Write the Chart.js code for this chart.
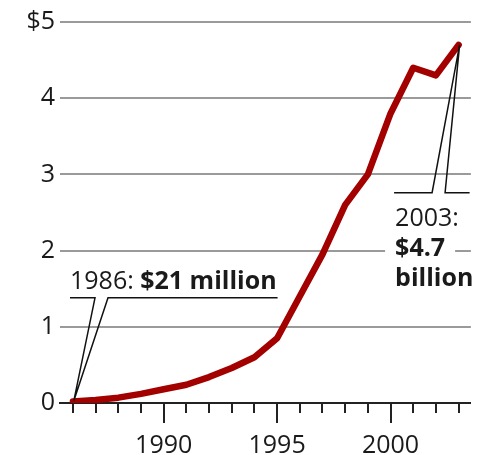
<!DOCTYPE html>
<html>
<head>
<meta charset="utf-8">
<script src="https://cdn.jsdelivr.net/npm/chart.js@4.4.1/dist/chart.umd.min.js"></script>
<style>
  html, body { margin: 0; padding: 0; background: #fff; }
  #wrap { width: 487px; height: 455px; position: relative; }
</style>
</head>
<body>
<div id="wrap"><canvas id="c"></canvas></div>
<script>
// ---- data ----
const years = [1986, 1987, 1988, 1989, 1990, 1991, 1992, 1993, 1994, 1995, 1996, 1997, 1998, 1999, 2000, 2001, 2002, 2003];
const revenue = [0.021, 0.04, 0.07, 0.12, 0.18, 0.24, 0.34, 0.46, 0.6, 0.85, 1.4, 1.95, 2.6, 3.0, 3.8, 4.4, 4.3, 4.7]; // $ billions
const yTicks = [0, 1, 2, 3, 4, 5];
const yTickLabels = ['0', '1', '2', '3', '4', '$5'];
const xLabelYears = [1990, 1995, 2000];
const firstNote = { year: 1986, value: 0.021, dateText: '1986: ', valueText: '$21 million' };
const lastNote = { year: 2003, value: 4.7, lines: ['2003:', '$4.7', 'billion'] };

const FONT = '"Open Sans", "Liberation Sans", sans-serif';
const FS = 25;
const TXT = '#1a1a1a';

const tickPlugin = {
  id: 'majorTicks',
  afterDraw(chart) {
    const ctx = chart.ctx, xs = chart.scales.x, bottom = chart.chartArea.bottom;
    ctx.save();
    ctx.strokeStyle = '#222';
    ctx.lineWidth = 2;
    years.forEach(y => {
      const px = Math.round(xs.getPixelForValue(y));
      const len = xLabelYears.includes(y) ? 20 : 10;
      ctx.beginPath();
      ctx.moveTo(px, bottom);
      ctx.lineTo(px, bottom + len);
      ctx.stroke();
    });
    ctx.restore();
  }
};

const notePlugin = {
  id: 'notes',
  afterDatasetsDraw(chart) {
    const ctx = chart.ctx, xs = chart.scales.x, ys = chart.scales.y;
    ctx.save();
    // ---- 1986 note ----
    const ax = xs.getPixelForValue(firstNote.year);
    const ay = ys.getPixelForValue(firstNote.value);
    const uy = ys.getPixelForValue(1.38);
    const left = chart.chartArea.left + 10;
    ctx.font = FS + 'px ' + FONT;
    const w1 = ctx.measureText(firstNote.dateText).width;
    ctx.font = 'bold ' + FS + 'px ' + FONT;
    const w2 = ctx.measureText(firstNote.valueText).width;
    const right = left + w1 + w2 + 1;
    ctx.strokeStyle = '#111';
    ctx.lineWidth = 1.5;
    ctx.beginPath();
    ctx.moveTo(left, uy);
    ctx.lineTo(left + 25, uy);
    ctx.lineTo(ax + 1, ay - 1);
    ctx.lineTo(left + 38, uy);
    ctx.lineTo(right, uy);
    ctx.stroke();
    ctx.fillStyle = TXT;
    ctx.textBaseline = 'alphabetic';
    ctx.textAlign = 'left';
    ctx.font = FS + 'px ' + FONT;
    ctx.fillText(firstNote.dateText, left, uy - 9);
    ctx.font = 'bold ' + FS + 'px ' + FONT;
    ctx.fillText(firstNote.valueText, left + w1, uy - 9);

    // ---- 2003 note ----
    const bx = xs.getPixelForValue(lastNote.year);
    const by = ys.getPixelForValue(lastNote.value);
    const hy = ys.getPixelForValue(2.76);
    const tx = xs.getPixelForValue(2000.2);
    // white knockout behind value line
    ctx.fillStyle = '#fff';
    ctx.fillRect(tx - 10, hy + 38, 70, 26);
    ctx.beginPath();
    ctx.moveTo(tx - 1, hy);
    ctx.lineTo(tx + 37, hy);
    ctx.lineTo(bx + 1, by);
    ctx.lineTo(tx + 50, hy);
    ctx.lineTo(bx + 11, hy);
    ctx.stroke();
    ctx.fillStyle = TXT;
    ctx.font = FS + 'px ' + FONT;
    ctx.fillText(lastNote.lines[0], tx, hy + 33);
    ctx.font = 'bold ' + FS + 'px ' + FONT;
    ctx.fillText(lastNote.lines[1], tx, hy + 63);
    ctx.fillText(lastNote.lines[2], tx, hy + 93);
    ctx.restore();
  }
};

new Chart(document.getElementById('c'), {
  type: 'line',
  data: {
    datasets: [{
      data: years.map((y, i) => ({ x: y, y: revenue[i] })),
      borderColor: '#a30000',
      borderWidth: 6.5,
      borderJoinStyle: 'round',
      borderCapStyle: 'round',
      pointRadius: 0,
      tension: 0,
      fill: false
    }]
  },
  options: {
    responsive: true,
    maintainAspectRatio: false,
    animation: false,
    layout: { padding: { top: 22, right: 13, left: 0, bottom: 0 } },
    plugins: { legend: { display: false }, tooltip: { enabled: false } },
    scales: {
      x: {
        type: 'linear',
        min: 1985.43,
        max: 2003.54,
        afterBuildTicks(scale) { scale.ticks = years.map(v => ({ value: v })); },
        afterFit(scale) { scale.height = 52; },
        border: { display: true, color: '#222', width: 2 },
        grid: { display: true, drawOnChartArea: false, drawTicks: false, tickLength: 0 },
        ticks: {
          autoSkip: false,
          maxRotation: 0,
          padding: 28,
          color: TXT,
          font: { family: FONT, size: FS },
          callback: v => xLabelYears.includes(v) ? String(v) : ''
        }
      },
      y: {
        min: 0,
        max: 5,
        afterBuildTicks(scale) { scale.ticks = yTicks.map(v => ({ value: v })); },
        afterFit(scale) { scale.width = 60; },
        border: { display: false },
        grid: { color: '#9a9a9a', lineWidth: 2, drawTicks: false, tickLength: 0 },
        ticks: {
          padding: 5,
          color: TXT,
          font: { family: FONT, size: FS },
          callback: v => yTickLabels[yTicks.indexOf(v)]
        }
      }
    }
  },
  plugins: [tickPlugin, notePlugin]
});
</script>
</body>
</html>
